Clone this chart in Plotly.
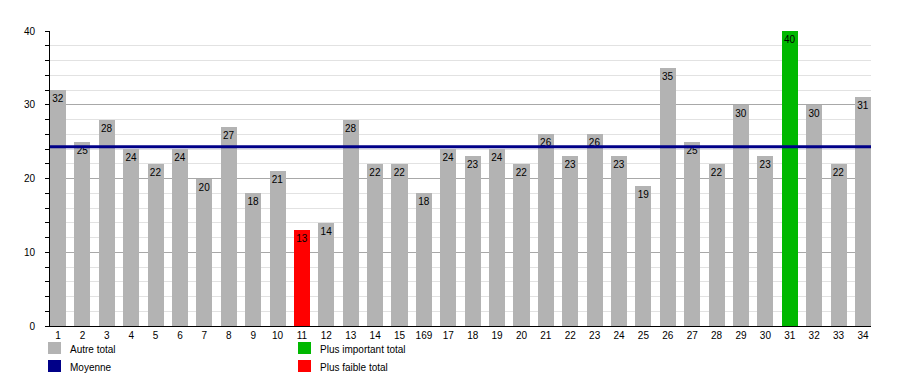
import plotly.graph_objects as go

categories = ["1", "2", "3", "4", "5", "6", "7", "8", "9", "10", "11", "12", "13", "14", "15", "169",
              "17", "18", "19", "20", "21", "22", "23", "24", "25", "26", "27", "28", "29", "30",
              "31", "32", "33", "34"]
totals = [32, 25, 28, 24, 22, 24, 20, 27, 18, 21, 13, 14, 28, 22, 22, 18,
          24, 23, 24, 22, 26, 23, 26, 23, 19, 35, 25, 22, 30, 23, 40, 30, 22, 31]
y_ticks = [0, 10, 20, 30, 40]

legend_labels = ["Autre total", "Moyenne", "Plus important total", "Plus faible total"]

GRAY = "#b3b3b3"
GREEN = "#00b800"
RED = "#ff0000"
NAVY = "#000088"
FONT = "Liberation Sans, Arial"

mx, mn = max(totals), min(totals)
colors = [GREEN if v == mx else RED if v == mn else GRAY for v in totals]
mean = sum(totals) / len(totals)
xpos = list(range(len(totals)))

fig = go.Figure()
fig.add_trace(go.Bar(
    x=xpos, y=totals, width=0.66, marker=dict(color=colors, line=dict(width=0)),
    text=[str(v) for v in totals], textposition="inside", insidetextanchor="end",
    textangle=0, textfont=dict(color="#000000", size=10, family=FONT),
    constraintext="none", hoverinfo="skip", showlegend=False,
))

fig.add_shape(type="line", xref="paper", x0=0, x1=1, yref="y", y0=mean, y1=mean,
              line=dict(color=NAVY, width=3), layer="above")

# manual legend (2 columns)
leg_colors = [GRAY, NAVY, GREEN, RED]
leg_pos = [(48, 342), (48, 360), (298, 342), (298, 360)]
W, H = 900, 375
for lab, col, (px, py) in zip(legend_labels, leg_colors, leg_pos):
    fig.add_shape(type="rect", xref="paper", yref="paper",
                  x0=(px - 50) / 821, x1=(px + 13 - 50) / 821,
                  y0=(326 - py - 12) / 295, y1=(326 - py) / 295,
                  fillcolor=col, line=dict(width=0))
    fig.add_annotation(xref="paper", yref="paper", x=(px + 20 - 50) / 821, y=(326 - py - 7) / 295,
                       text=lab, showarrow=False, xanchor="left", yanchor="middle",
                       font=dict(size=10, color="#000000", family=FONT))

fig.update_layout(
    width=W, height=H, margin=dict(l=50, r=29, t=31, b=49),
    paper_bgcolor="white", plot_bgcolor="white", bargap=0,
    font=dict(family=FONT, size=10, color="#000000"),
    xaxis=dict(range=[-0.33, len(totals) - 1 + 0.33], tickmode="array", tickvals=xpos,
               ticktext=categories, showgrid=False, zeroline=False, showline=True,
               linecolor="#000000", linewidth=1, ticks="", tickfont=dict(size=10)),
    yaxis=dict(range=[0, 40], tickmode="array", tickvals=y_ticks, showgrid=True,
               gridcolor="#a8a8a8", gridwidth=1, zeroline=False, showline=True,
               linecolor="#000000", linewidth=1, ticks="outside", ticklen=4,
               tickcolor="#000000", tickfont=dict(size=10), ticklabelstandoff=8,
               minor=dict(dtick=2, tick0=0, ticks="outside", ticklen=4, tickcolor="#000000",
                          showgrid=True, gridcolor="#e2e2e2", gridwidth=1)),
)

fig.write_html("out.html", config={"displayModeBar": False, "staticPlot": True},
               post_script="document.body.style.margin='0';document.body.style.padding='0';document.body.style.overflow='hidden';")
